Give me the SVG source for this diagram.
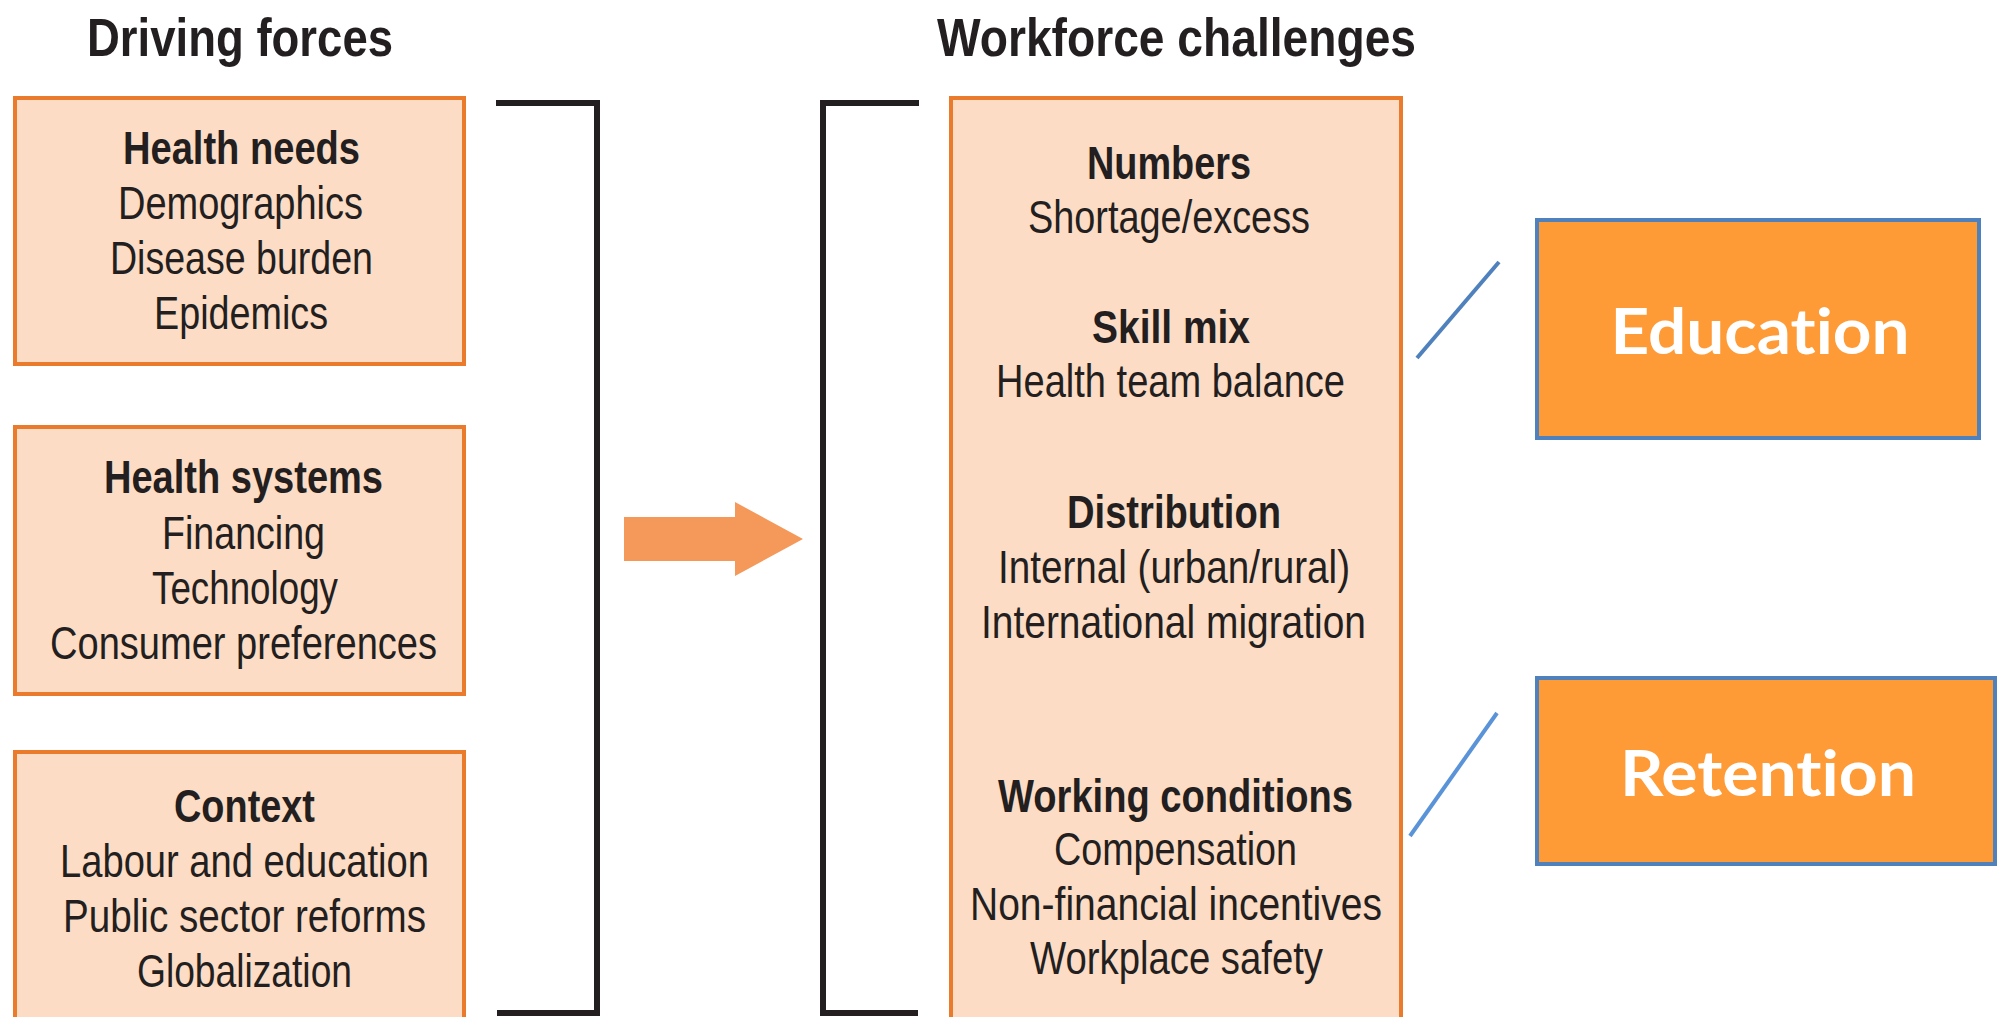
<svg xmlns="http://www.w3.org/2000/svg" width="2006" height="1017" viewBox="0 0 2006 1017">
<style>
.bg{fill:#ffffff}
.box{fill:#FDDCC5;stroke:#EA7A2C;stroke-width:4}
.brk{fill:none;stroke:#231F20;stroke-width:6}
.arrow{fill:#F4995A}
.obox{fill:#FF9B37;stroke:#4F81BD;stroke-width:4}
.link1{stroke:#4F81BD;stroke-width:4}
.link2{stroke:#5B93D8;stroke-width:4}
text{font-family:"Liberation Sans",Arial,sans-serif;fill:#231F20;text-anchor:middle}
.t{font-size:54px;font-weight:bold}
.h{font-size:46px;font-weight:bold}
.r{font-size:46px}
.w{font-family:Lato,"Open Sans",sans-serif;font-size:64px;font-weight:bold;fill:#ffffff;font-variant-ligatures:none;font-feature-settings:"liga" 0,"dlig" 0}
</style>
<rect class="bg" x="0" y="0" width="2006" height="1017"/>
<g id="title-driving">
<text class="t" x="240" y="56" textLength="306" lengthAdjust="spacingAndGlyphs">Driving forces</text>
</g>
<g id="title-workforce">
<text class="t" x="1176.5" y="56" textLength="479" lengthAdjust="spacingAndGlyphs">Workforce challenges</text>
</g>
<g id="health-needs">
<rect class="box" x="15" y="98" width="449" height="266"/>
<text class="h" x="241.5" y="164" textLength="237" lengthAdjust="spacingAndGlyphs">Health needs</text>
<text class="r" x="240.5" y="219" textLength="245" lengthAdjust="spacingAndGlyphs">Demographics</text>
<text class="r" x="241.5" y="274" textLength="263" lengthAdjust="spacingAndGlyphs">Disease burden</text>
<text class="r" x="241" y="329" textLength="174" lengthAdjust="spacingAndGlyphs">Epidemics</text>
</g>
<g id="health-systems">
<rect class="box" x="15" y="427" width="449" height="267"/>
<text class="h" x="243.5" y="493" textLength="279" lengthAdjust="spacingAndGlyphs">Health systems</text>
<text class="r" x="243.5" y="549" textLength="163" lengthAdjust="spacingAndGlyphs">Financing</text>
<text class="r" x="245" y="604" textLength="186" lengthAdjust="spacingAndGlyphs">Technology</text>
<text class="r" x="243.5" y="659" textLength="387" lengthAdjust="spacingAndGlyphs">Consumer preferences</text>
</g>
<g id="context">
<rect class="box" x="15" y="752" width="449" height="290"/>
<text class="h" x="244.5" y="822" textLength="141" lengthAdjust="spacingAndGlyphs">Context</text>
<text class="r" x="244.5" y="877" textLength="369" lengthAdjust="spacingAndGlyphs">Labour and education</text>
<text class="r" x="244.5" y="932" textLength="363" lengthAdjust="spacingAndGlyphs">Public sector reforms</text>
<text class="r" x="244.5" y="987" textLength="215" lengthAdjust="spacingAndGlyphs">Globalization</text>
</g>
<g id="connectors">
<polyline class="brk" points="496,103 597,103 597,1013 497,1013"/>
<polyline class="brk" points="919,103 823,103 823,1013 918,1013"/>
<polygon class="arrow" points="624,517 735,517 735,502 803,539 735,576 735,561 624,561"/>
<line class="link1" x1="1417" y1="358" x2="1499" y2="262"/>
<line class="link2" x1="1410" y1="836" x2="1497" y2="713"/>
</g>
<g id="workforce-challenges">
<rect class="box" x="951" y="98" width="450" height="944"/>
<text class="h" x="1169" y="179" textLength="164" lengthAdjust="spacingAndGlyphs">Numbers</text>
<text class="r" x="1169" y="233" textLength="282" lengthAdjust="spacingAndGlyphs">Shortage/excess</text>
<text class="h" x="1171" y="343" textLength="158" lengthAdjust="spacingAndGlyphs">Skill mix</text>
<text class="r" x="1170.5" y="397" textLength="349" lengthAdjust="spacingAndGlyphs">Health team balance</text>
<text class="h" x="1174" y="528" textLength="214" lengthAdjust="spacingAndGlyphs">Distribution</text>
<text class="r" x="1174" y="583" textLength="352" lengthAdjust="spacingAndGlyphs">Internal (urban/rural)</text>
<text class="r" x="1173.5" y="638" textLength="385" lengthAdjust="spacingAndGlyphs">International migration</text>
<text class="h" x="1175.5" y="812" textLength="355" lengthAdjust="spacingAndGlyphs">Working conditions</text>
<text class="r" x="1175.5" y="865" textLength="243" lengthAdjust="spacingAndGlyphs">Compensation</text>
<text class="r" x="1176" y="920" textLength="412" lengthAdjust="spacingAndGlyphs">Non-financial incentives</text>
<text class="r" x="1176.5" y="974" textLength="293" lengthAdjust="spacingAndGlyphs">Workplace safety</text>
</g>
<g id="education">
<rect class="obox" x="1537" y="220" width="442" height="218"/>
<text class="w" x="1760" y="354" textLength="299" lengthAdjust="spacingAndGlyphs">Education</text>
</g>
<g id="retention">
<rect class="obox" x="1537" y="678" width="458" height="186"/>
<text class="w" x="1768" y="796" textLength="296" lengthAdjust="spacingAndGlyphs">Retention</text>
</g>
</svg>
